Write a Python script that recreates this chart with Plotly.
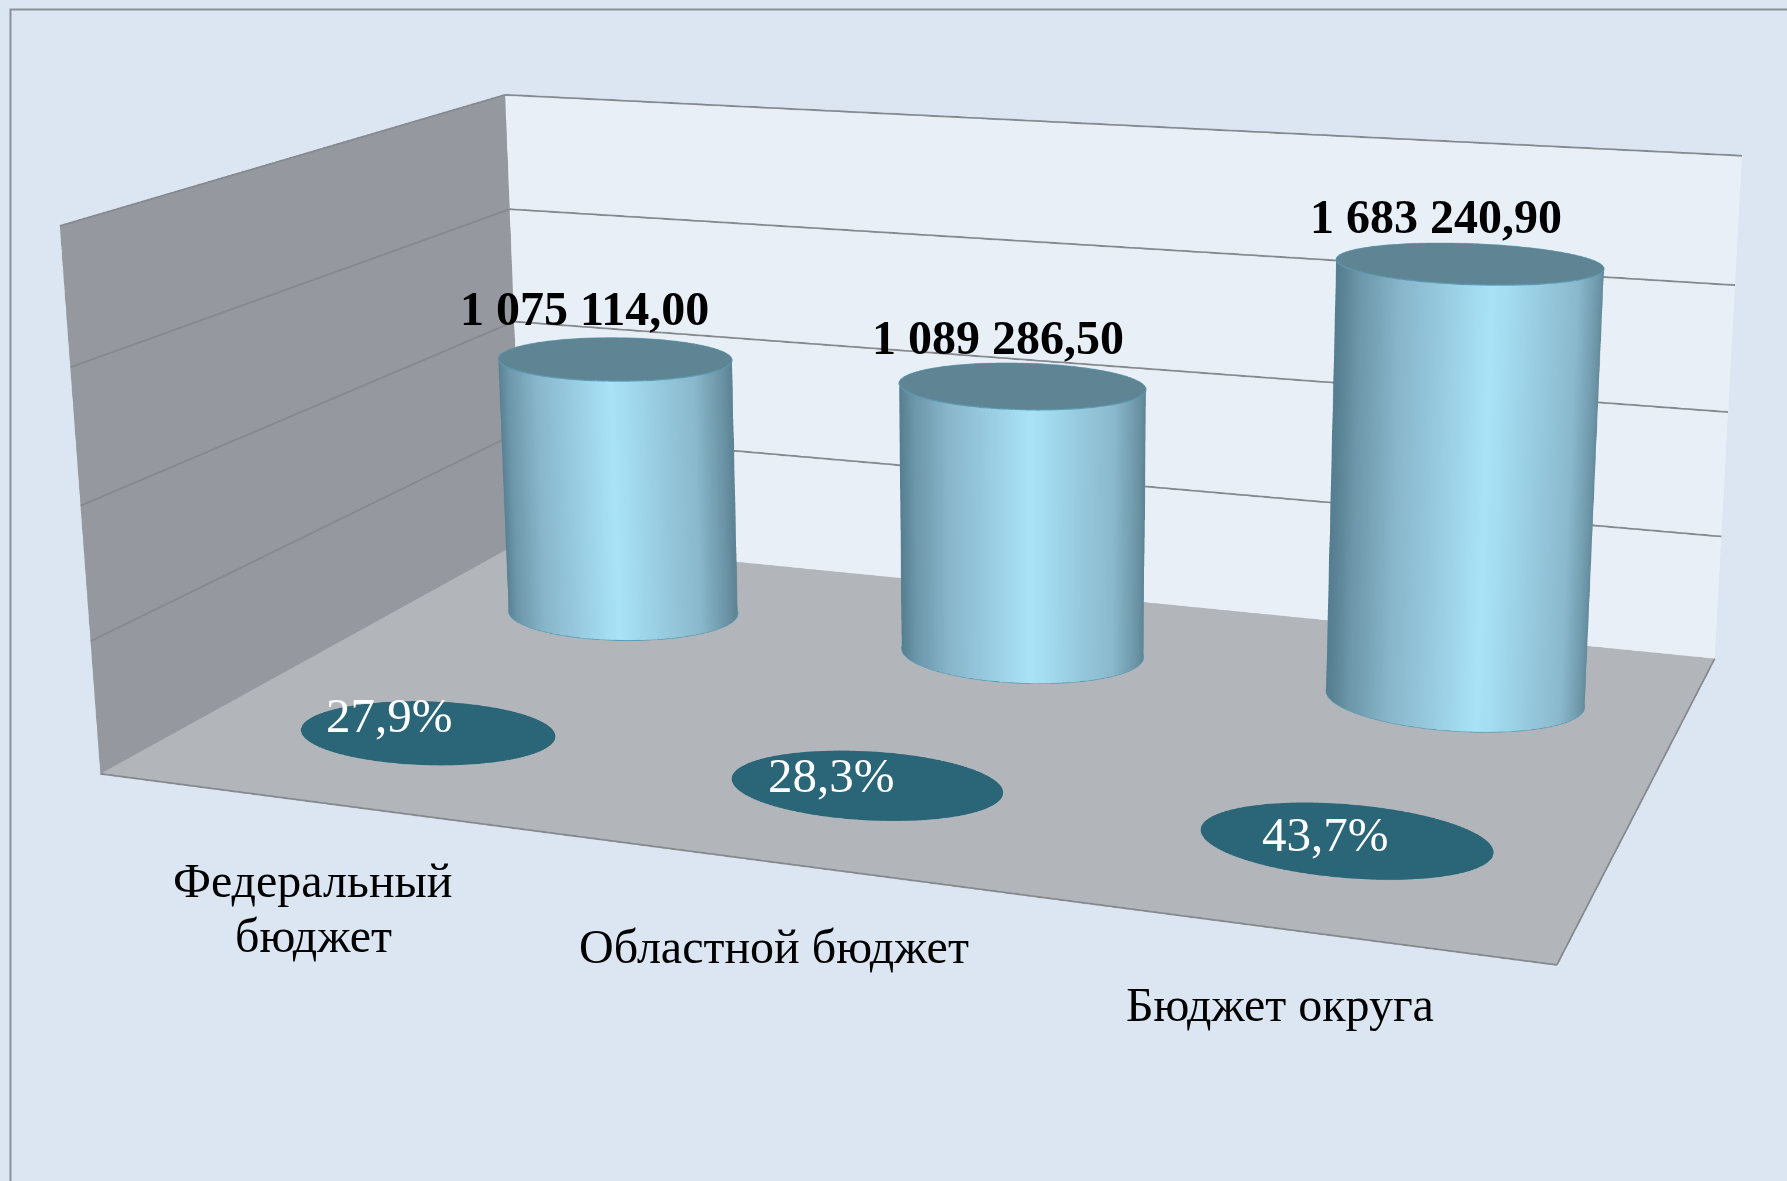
import numpy as np
import plotly.graph_objects as go

categories = ["Федеральный<br>бюджет", "Областной бюджет", "Бюджет округа"]
values = [1075114.00, 1089286.50, 1683240.90]
value_labels = ["1 075 114,00", "1 089 286,50", "1 683 240,90"]
share_labels = ["27,9%", "28,3%", "43,7%"]
Z_MAX = 2000000
z_ticks = [500000, 1000000, 1500000]

# positions on the chart floor (axis units, 0-1)
bar_x = [0.1712, 0.5042, 0.8364]
bar_y = [0.7446, 0.7506, 0.7500]
disc_x = [0.1700, 0.5038, 0.8337]
disc_y = [0.2421, 0.2450, 0.2535]
share_x = [0.1250, 0.4739, 0.8186]
share_y = [0.2821, 0.2615, 0.2637]
value_shift = [(-30, 50), (-24, 48), (-33, 47)]
cat_px = [(313, 908), (774, 946), (1280, 1004)]

# the plot is larger than the window so the 45-degree gl3d lens gives the long perspective of the original
VW, VH = 1787, 1181
W, H = 4001, 2842
OX, OY = 1070, 916
ASPECT = dict(x=1, y=0.6283, z=0.3804)
EYE = dict(x=0.8232, y=-2.1903, z=0.5926)
CENTER = dict(x=-0.034, y=0.0649, z=-0.0546)
UP = dict(x=-0.5258, y=1.4123, z=1)
R = 0.0935
R_DISC = 0.095
FLAT_BAR = 0.8
FLAT_DISC = 0.70

theta = np.linspace(0, 2 * np.pi, 181)
view = np.array([CENTER['x'] - EYE['x'], CENTER['y'] - EYE['y']])
view /= np.linalg.norm(view)
right = np.array([view[1], -view[0]])
shade = [[0, '#527a8c'], [.07, '#6c96a9'], [.2, '#88b5ca'], [.52, '#a9e3f8'], [.85, '#8ab8cc'], [.95, '#6d96a8'], [1, '#5a8090']]
flat = dict(ambient=1, diffuse=0, specular=0, fresnel=0)
rr = np.array([0, 1.0])


def solid(color):
    return dict(surfacecolor=np.zeros((theta.size, 2)), colorscale=[[0, color], [1, color]], cmin=0, cmax=1,
                showscale=False, hoverinfo='skip', lighting=flat)


data = []
ry = R * FLAT_BAR / ASPECT['y']
for i, v in enumerate(values):
    cx, cy = bar_x[i], bar_y[i]
    xs, ys = cx + R * np.cos(theta), cy + ry * np.sin(theta)
    sc = (np.cos(theta) * right[0] + np.sin(theta) * FLAT_BAR * right[1] + 1) / 2
    data.append(go.Surface(x=np.outer(xs, [1, 1]), y=np.outer(ys, [1, 1]), z=np.outer(np.ones_like(theta), [0, v]),
                           surfacecolor=np.outer(sc, [1, 1]), colorscale=shade, cmin=0, cmax=1,
                           showscale=False, hoverinfo='skip', lighting=flat))
    data.append(go.Surface(x=cx + np.outer(R * np.cos(theta), rr), y=cy + np.outer(ry * np.sin(theta), rr),
                           z=np.full((theta.size, 2), v), **solid('#5f8594')))
    for rim_z in (0, v):
        data.append(go.Scatter3d(x=xs, y=ys, z=np.full(theta.size, rim_z), mode='lines',
                                 line=dict(color='#5a9cb4', width=2), hoverinfo='skip', showlegend=False))
    ex, ey = disc_x[i], disc_y[i]
    data.append(go.Surface(x=ex + np.outer(R_DISC * np.cos(theta), rr),
                           y=ey + np.outer(R_DISC * FLAT_DISC / ASPECT['y'] * np.sin(theta), rr),
                           z=np.full((theta.size, 2), Z_MAX * 0.001), **solid('#2a6578')))

edges = [([0, 1], [0, 0], [0, 0]), ([1, 1], [0, 1], [0, 0]), ([0, 0], [0, 1], [Z_MAX, Z_MAX]), ([0, 1], [1, 1], [Z_MAX, Z_MAX])]
for ex_, ey_, ez_ in edges:
    data.append(go.Scatter3d(x=ex_, y=ey_, z=ez_, mode='lines', line=dict(color='#85888d', width=3), hoverinfo='skip', showlegend=False))
for zt in z_ticks:
    data.append(go.Scatter3d(x=[0, 0, 1], y=[0, 1, 1], z=[zt, zt, zt], mode='lines', line=dict(color='#85888d', width=3), hoverinfo='skip', showlegend=False))

font = 'Liberation Serif'
ann = []
for i in range(3):
    ann.append(dict(x=bar_x[i], y=bar_y[i], z=values[i], text=f"<b>{value_labels[i]}</b>", showarrow=False,
                    font=dict(family=font, size=48, color='black'), xshift=value_shift[i][0], yshift=value_shift[i][1]))
    ann.append(dict(x=share_x[i], y=share_y[i], z=0, text=share_labels[i], showarrow=False, font=dict(family=font, size=49, color='white')))

page = []
for i, c in enumerate(categories):
    lines = c.split('<br>')
    for j, l in enumerate(lines):
        py = cat_px[i][1] + (j - (len(lines) - 1) / 2) * 55
        page.append(dict(xref='paper', yref='paper', x=(OX + cat_px[i][0]) / W, y=1 - (OY + py) / H, text=l, showarrow=False,
                         xanchor='center', yanchor='middle', font=dict(family=font, size=48, color='black')))

ax = dict(showgrid=False, showticklabels=False, title='', showspikes=False, zeroline=False, showline=False, ticks='')
fig = go.Figure(data)
fig.update_layout(width=W, height=H, autosize=False, margin=dict(l=0, r=0, t=0, b=0), paper_bgcolor='#dce6f2', showlegend=False,
                  scene=dict(domain=dict(x=[0, 1], y=[0, 1]), aspectmode='manual', aspectratio=ASPECT,
                             camera=dict(eye=EYE, center=CENTER, up=UP, projection=dict(type='perspective')),
                             xaxis=dict(ax, range=[0, 1], showbackground=True, backgroundcolor='#95989e'),
                             yaxis=dict(ax, range=[0, 1], showbackground=True, backgroundcolor='#e8eff7'),
                             zaxis=dict(ax, range=[0, Z_MAX], showbackground=True, backgroundcolor='#b2b6bb'),
                             annotations=ann),
                  shapes=[dict(type='rect', xref='paper', yref='paper', x0=(OX + 10.5) / W, x1=(OX + VW + 20) / W,
                               y0=1 - (OY + VH + 20) / H, y1=1 - (OY + 9.5) / H, line=dict(color='#8a8f96', width=2))],
                  annotations=page)
fig.write_html("out.html", config=dict(displayModeBar=False),
               post_script=f"document.body.style.cssText='margin:0;position:fixed;left:-{OX}px;top:-{OY}px';document.documentElement.style.overflow='hidden';")
